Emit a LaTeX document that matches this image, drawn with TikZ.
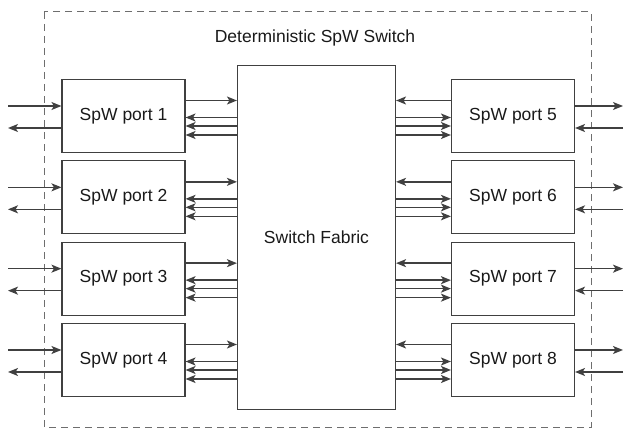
\documentclass[tikz,border=0pt]{standalone}
\usepackage{fontspec}
\setmainfont{Liberation Sans}
\usepackage{tikz}
\usetikzlibrary{arrows.meta}
\definecolor{lineGray}{RGB}{64, 64, 64}
\definecolor{dashGray}{RGB}{110, 110, 110}
\definecolor{textDark}{RGB}{25, 25, 25}

\begin{document}
\begin{tikzpicture}[x=1pt, y=-1pt,
    every node/.style={font=\fontsize{17.5}{21}\selectfont, text=textDark},
    port/.style={draw=lineGray, line width=1.1pt, minimum width=123pt, minimum height=73pt, inner sep=0pt},
    fabric/.style={draw=lineGray, line width=1.1pt, minimum width=158pt, minimum height=344pt, inner sep=0pt},
    link/.style={draw=lineGray, line width=1.4pt, -{Stealth[length=10pt, width=8pt, inset=2.5pt]}},
    frame/.style={draw=dashGray, line width=1pt, dash pattern=on 7pt off 5pt}]
        \useasboundingbox (0,0) rectangle (624,428);
        \draw[frame] (44,12) rectangle (591,427);
        \node (title) at (315,38) {Deterministic SpW Switch};
        \node[fabric] (fab) at (316.5,237.5) {Switch Fabric};
        \foreach \i/\j in {1/5, 2/6, 3/7, 4/8} {
            \pgfmathsetmacro\yy{116+81.33*(\i-1)}
            \node[port] (p\i) at (123.5,\yy) {SpW port \i};
            \node[port] (p\j) at (513,\yy) {SpW port \j};
            % outer links
            \coordinate (inL\i) at (8,{\yy-10});
            \coordinate (outL\i) at (8,{\yy+12});
            \coordinate (outR\j) at (623,{\yy-10});
            \coordinate (inR\j) at (623,{\yy+12});
            \draw[link] (inL\i) -- (inL\i -| p\i.west);
            \draw[link] (p\i.west |- outL\i) -- (outL\i);
            \draw[link] (p\j.east |- outR\j) -- (outR\j);
            \draw[link] (inR\j) -- (inR\j -| p\j.east);
            % links to the fabric
            \coordinate (up\i) at (0,{\yy-15.5});
            \draw[link] (p\i.east |- up\i) -- (fab.west |- up\i);
            \draw[link] (p\j.west |- up\i) -- (fab.east |- up\i);
            \foreach \d in {1.5, 10, 19} {
                \coordinate (dn) at (0,{\yy+\d});
                \draw[link] (fab.west |- dn) -- (p\i.east |- dn);
                \draw[link] (fab.east |- dn) -- (p\j.west |- dn);
            }
        }
      \end{tikzpicture}
\end{document}
